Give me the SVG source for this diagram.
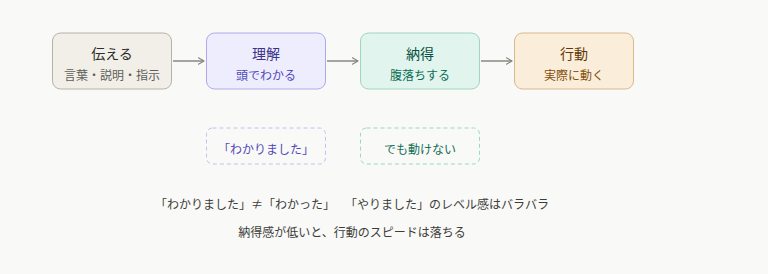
<svg xmlns="http://www.w3.org/2000/svg" width="768" height="274" viewBox="0 0 768 274">
<defs>
<marker id="arr" viewBox="0 0 10 10" refX="8" refY="5" markerWidth="8" markerHeight="8" markerUnits="userSpaceOnUse" orient="auto">
<path d="M1,1 L8,5 L1,9" fill="none" stroke="#888780" stroke-width="1.5" stroke-linecap="round" stroke-linejoin="round"/>
</marker>
<style>
text{font-family:"Noto Sans CJK JP","Noto Sans",sans-serif;text-anchor:middle;dominant-baseline:central}
.t{font-size:14px;font-weight:400}
.s{font-size:12px}
.n{font-size:12px;fill:#3d3d3a}
.c{stroke:#888780;stroke-width:1.5;fill:none}
</style>
</defs>
<rect width="768" height="274" fill="#f9f9f7"/>
<g id="connectors">
<line class="c" x1="173" y1="61" x2="204" y2="61" marker-end="url(#arr)"/>
<line class="c" x1="327" y1="61" x2="358" y2="61" marker-end="url(#arr)"/>
<line class="c" x1="481" y1="61" x2="512" y2="61" marker-end="url(#arr)"/>
</g>
<g id="node-tsutaeru">
<rect x="52.5" y="33" width="119" height="56" rx="8" fill="#f1efe8" stroke="#b4b2a9"/>
<text class="t" x="112" y="53" fill="#2c2c2a">伝える</text>
<text class="s" x="112" y="74" fill="#5f5e5a">言葉・説明・指示</text>
</g>
<g id="node-rikai">
<rect x="206.5" y="33" width="119" height="56" rx="8" fill="#eeedfe" stroke="#afa9ec"/>
<text class="t" x="266" y="53" fill="#3c3489">理解</text>
<text class="s" x="266" y="74" fill="#534ab7">頭でわかる</text>
</g>
<g id="node-nattoku">
<rect x="360.5" y="33" width="119" height="56" rx="8" fill="#e1f5ee" stroke="#9fd6c0"/>
<text class="t" x="420" y="53" fill="#085041">納得</text>
<text class="s" x="420" y="74" fill="#0f6e56">腹落ちする</text>
</g>
<g id="node-koudou">
<rect x="514.5" y="33" width="119" height="56" rx="8" fill="#faeeda" stroke="#d9b88e"/>
<text class="t" x="574" y="53" fill="#633806">行動</text>
<text class="s" x="574" y="74" fill="#854f0b">実際に動く</text>
</g>
<g id="note-wakarimashita">
<rect x="206.5" y="128" width="119" height="36" rx="6" fill="none" stroke="#c4c0f0" stroke-dasharray="4 3"/>
<text class="s" x="266" y="148" fill="#534ab7">「わかりました」</text>
</g>
<g id="note-ugokenai">
<rect x="360.5" y="128" width="119" height="36" rx="6" fill="none" stroke="#97dbc0" stroke-dasharray="4 3"/>
<text class="s" x="420" y="148" fill="#0f6e56">でも動けない</text>
</g>
<g id="captions">
<text class="n" x="245" y="203">「わかりました」≠「わかった」</text>
<text class="n" x="447" y="203">「やりました」のレベル感はバラバラ</text>
<text class="n" x="352" y="231">納得感が低いと、行動のスピードは落ちる</text>
</g>
</svg>
